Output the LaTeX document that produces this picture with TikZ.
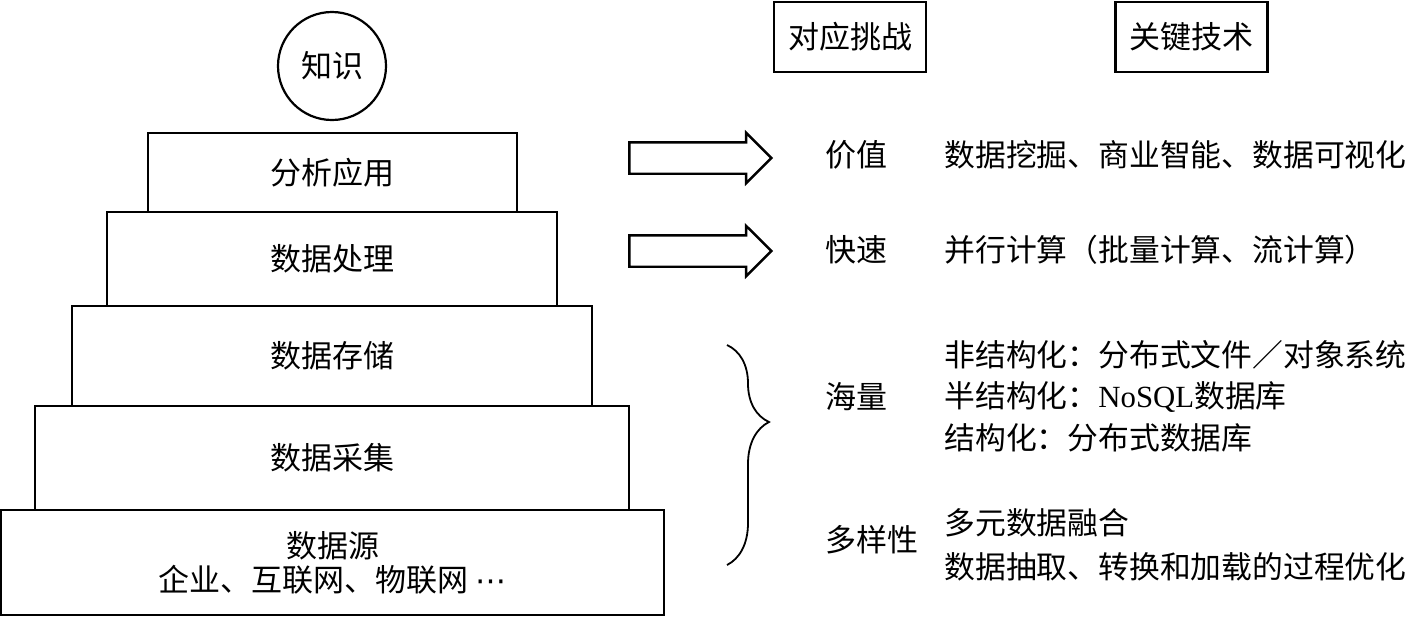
\documentclass[tikz,border=0pt]{standalone}
\usepackage{fontspec}
\setmainfont{Liberation Serif}
\newfontfamily\cjk{Noto Sans CJK SC}
\newfontfamily\symbolfont{DejaVu Sans}
\usetikzlibrary{shapes.arrows, decorations.pathreplacing}

\begin{document}
\begin{tikzpicture}[
		x=0.5pt, y=-0.5pt,
		layer/.style={rectangle, draw=black, line width=1.2pt, inner sep=0pt, align=center, font=\cjk\fontsize{15.5}{17}\selectfont},
		header/.style={rectangle, draw=black, line width=1.2pt, inner sep=0pt, minimum width=76pt, minimum height=35pt, font=\cjk\fontsize{15.5}{17}\selectfont},
		challenge/.style={anchor=west, inner sep=0pt, font=\cjk\fontsize{15.5}{17}\selectfont},
		technique/.style={anchor=west, inner sep=0pt, font=\cjk\fontsize{15.4}{17}\selectfont},
		block arrow/.style={single arrow, draw=black, line width=1.2pt, inner xsep=0pt, inner ysep=7.25pt, minimum height=71pt, single arrow head extend=4.75pt, anchor=tip}
		]
		\useasboundingbox (0, 0) rectangle (1413, 617);
		% pyramid
		\node at (332, 66) [name=knowledge, circle, draw=black, line width=1.1pt, inner sep=0pt, minimum size=54pt, font=\cjk\fontsize{15.5}{17}\selectfont] {知识};
		\node at (332.5, 172.5) [name=analysis, layer, minimum width=184.5pt, minimum height=39.5pt] {分析应用};
		\node at (332, 259) [name=processing, layer, minimum width=225pt, minimum height=47pt] {数据处理};
		\node at (332, 356) [name=storage, layer, minimum width=260pt, minimum height=50pt] {数据存储};
		\node at (332, 458) [name=collection, layer, minimum width=297pt, minimum height=52pt] {数据采集};
		\node at (332.5, 562.5) [name=source, layer, minimum width=331.5pt, minimum height=52.5pt] {数据源\\企业、互联网、物联网 {\symbolfont ⋯}};
		% headers
		\node at (850, 37) [name=challenges, header] {对应挑战};
		\node at (1191.5, 37) [name=techniques, header] {关键技术};
		% arrows and brace
		\node at (773, 158) [name=arrow value, block arrow] {};
		\node at (773, 251) [name=arrow velocity, block arrow] {};
		\coordinate (brace top) at (727, 345);
		\coordinate (brace bottom) at (727, 565);
		\draw[line width=0.9pt, decorate, decoration={brace, amplitude=21pt, aspect=0.35}] (brace top) -- (brace bottom);
		% challenges
		\node at (825, 155) [name=value, challenge] {价值};
		\node at (825, 250) [name=velocity, challenge] {快速};
		\node at (825, 397) [name=volume, challenge] {海量};
		\node at (825, 540) [name=variety, challenge] {多样性};
		% key techniques
		\node at (944, 155) [name=tech value, technique] {数据挖掘、商业智能、数据可视化};
		\node at (944, 250) [name=tech velocity, technique] {并行计算（批量计算、流计算）};
		\node at (944, 355) [name=tech volume 1, technique] {非结构化：分布式文件／对象系统};
		\node at (944, 397) [name=tech volume 2, technique] {半结构化：{\rmfamily NoSQL}数据库};
		\node at (944, 438) [name=tech volume 3, technique] {结构化：分布式数据库};
		\node at (944, 523) [name=tech variety 1, technique] {多元数据融合};
		\node at (944, 567) [name=tech variety 2, technique] {数据抽取、转换和加载的过程优化};
	\end{tikzpicture}
\end{document}
